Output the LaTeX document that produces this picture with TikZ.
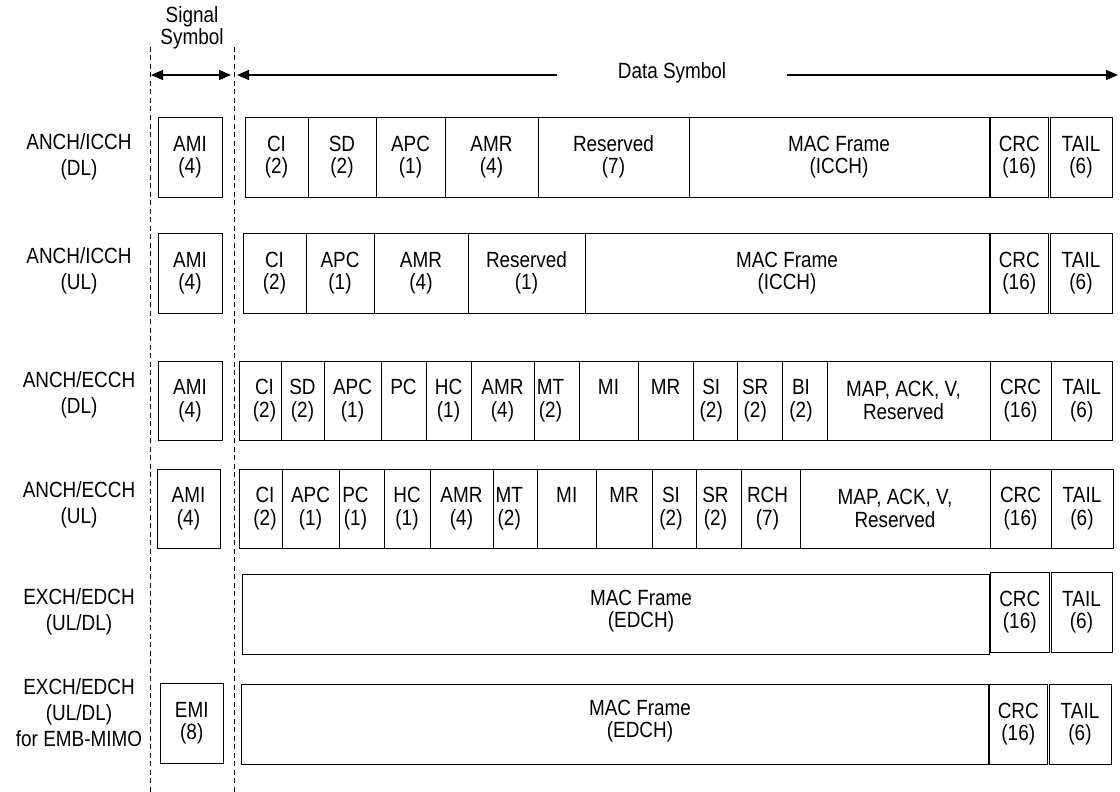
\documentclass[tikz,border=0pt]{standalone}
\usepackage{fontspec}
\setmainfont{Liberation Sans}[FakeStretch=0.86]
\usetikzlibrary{arrows.meta}
\newcommand\fieldbox[6]{\node[fld, minimum width={(#3)-(#2)}, minimum height={(#5)-(#4)}] (#1) at ({((#2)+(#3))/2},{((#4)+(#5))/2}) {#6};}
\newcommand\sh[1]{\hspace*{#1pt}}
\begin{document}
\begin{tikzpicture}[x=1pt,y=-1pt,line width=1pt,
  fld/.style={draw, inner sep=0pt, align=center, font=\fontsize{22}{22.5}\selectfont},
  rowlab/.style={align=center, inner sep=0pt, font=\fontsize{22}{25.5}\selectfont},
  txt/.style={align=center, inner sep=0pt, font=\fontsize{22}{22.5}\selectfont},
  guide/.style={line width=1.2pt, dash pattern=on 5pt off 3.5pt},
  tri/.tip={Triangle[length=12pt,width=10pt]}]
\useasboundingbox (0,0) rectangle (1120,792);
\fill[white] (0,0) rectangle (1120,792);
% guides
\coordinate (g1t) at (150.5,47); \coordinate (g1b) at (150.5,792);
\coordinate (g2t) at (234.5,47); \coordinate (g2b) at (234.5,792);
\draw[guide] (g1t) -- (g1b);
\draw[guide] (g2t) -- (g2b);
\node[txt, font=\fontsize{22}{19}\selectfont] (sig) at (192,28) {Signal\\Symbol};
\coordinate (s1) at (151,75); \coordinate (s2) at (231,75);
\draw[line width=1.1pt, {tri}-{tri}] (s1) -- (s2);
\coordinate (a1) at (237,75); \coordinate (a2) at (557,75);
\coordinate (a3) at (787,75); \coordinate (a4) at (1118,75);
\node[txt] (ds) at (672,73) {Data Symbol};
\draw[line width=1.1pt, {tri}-] (a1) -- (a2);
\draw[line width=1.1pt, -{tri}] (a3) -- (a4);
% row labels
\node[rowlab] (l1) at (79,157) {ANCH/ICCH\\(DL)};
\node[rowlab] (l2) at (79,271) {ANCH/ICCH\\(UL)};
\node[rowlab] (l3) at (79,395) {ANCH/ECCH\\(DL)};
\node[rowlab] (l4) at (79,505) {ANCH/ECCH\\(UL)};
\node[rowlab] (l5) at (79,612) {EXCH/EDCH\\(UL/DL)};
\node[rowlab, font=\fontsize{22}{26}\selectfont] (l6) at (79,713) {EXCH/EDCH\\(UL/DL)\\for EMB-MIMO};
% row 1
\fieldbox{r1ami}{158}{222}{117}{197}{AMI\\(4)}
\fieldbox{r1ci}{245}{308}{117}{197}{CI\\(2)}
\fieldbox{r1sd}{308}{376}{117}{197}{SD\\(2)}
\fieldbox{r1apc}{376}{445}{117}{197}{APC\\(1)}
\fieldbox{r1amr}{445}{538}{117}{197}{AMR\\(4)}
\fieldbox{r1res}{538}{689}{117}{197}{Reserved\\(7)}
\fieldbox{r1mac}{689}{989}{117}{197}{MAC Frame\\(ICCH)}
\fieldbox{r1crc}{990.5}{1048}{117}{197}{CRC\\(16)}
\fieldbox{r1tail}{1050}{1112}{117}{197}{TAIL\\(6)}
% row 2
\fieldbox{r2ami}{158}{222}{233}{313}{AMI\\(4)}
\fieldbox{r2ci}{243}{306}{233}{313}{CI\\(2)}
\fieldbox{r2apc}{306}{374}{233}{313}{APC\\(1)}
\fieldbox{r2amr}{374}{468}{233}{313}{AMR\\(4)}
\fieldbox{r2res}{468}{585}{233}{313}{Reserved\\(1)}
\fieldbox{r2mac}{585}{989}{233}{313}{MAC Frame\\(ICCH)}
\fieldbox{r2crc}{990.5}{1048}{233}{313}{CRC\\(16)}
\fieldbox{r2tail}{1050}{1112}{233}{313}{TAIL\\(6)}
% row 3
\fieldbox{r3ami}{158}{222}{361}{440}{AMI\\(4)}
\fieldbox{r3ci}{239}{281}{361}{440}{\sh{9}CI\\\sh{9}(2)}
\fieldbox{r3sd}{281}{324}{361}{440}{SD\\(2)}
\fieldbox{r3apc}{324}{381}{361}{440}{APC\\(1)}
\fieldbox{r3pc}{381}{426}{361}{440}{PC\\\phantom{(1)}}
\fieldbox{r3hc}{426}{471}{361}{440}{HC\\(1)}
\fieldbox{r3amr}{471}{534}{361}{440}{AMR\\(4)}
\fieldbox{r3mt}{534}{579}{361}{440}{MT\sh{12}\\(2)\sh{12}}
\fieldbox{r3mi}{579}{638}{361}{440}{MI\\\phantom{(1)}}
\fieldbox{r3mr}{638}{693}{361}{440}{MR\\\phantom{(1)}}
\fieldbox{r3si}{693}{737.5}{361}{440}{SI\sh{8}\\(2)\sh{8}}
\fieldbox{r3sr}{737.5}{782}{361}{440}{SR\sh{9}\\(2)\sh{9}}
\fieldbox{r3bi}{782}{827}{361}{440}{BI\sh{7}\\(2)\sh{7}}
\fieldbox{r3map}{827}{990}{361}{440}{MAP, ACK, V,\sh{10}\\Reserved\sh{10}}
\fieldbox{r3crc}{990}{1051}{361}{440}{CRC\\(16)}
\fieldbox{r3tail}{1051}{1112.5}{361}{440}{TAIL\\(6)}
% row 4
\fieldbox{r4ami}{157}{220}{469}{548}{AMI\\(4)}
\fieldbox{r4ci}{239}{282}{469}{548}{\sh{9}CI\\\sh{9}(2)}
\fieldbox{r4apc}{282}{339}{469}{548}{APC\\(1)}
\fieldbox{r4pc}{339}{384}{469}{548}{PC\sh{12}\\(1)\sh{12}}
\fieldbox{r4hc}{384}{430}{469}{548}{HC\\(1)}
\fieldbox{r4amr}{430}{493}{469}{548}{AMR\\(4)}
\fieldbox{r4mt}{493}{537.5}{469}{548}{MT\sh{12}\\(2)\sh{12}}
\fieldbox{r4mi}{537.5}{596}{469}{548}{MI\\\phantom{(1)}}
\fieldbox{r4mr}{596}{652}{469}{548}{MR\\\phantom{(1)}}
\fieldbox{r4si}{652}{696}{469}{548}{SI\sh{6}\\(2)\sh{6}}
\fieldbox{r4sr}{696}{741}{469}{548}{SR\sh{6}\\(2)\sh{6}}
\fieldbox{r4rch}{741}{800}{469}{548}{RCH\sh{6}\\(7)\sh{6}}
\fieldbox{r4map}{800}{990}{469}{548}{MAP, ACK, V,\\Reserved}
\fieldbox{r4crc}{990}{1051}{469}{548}{CRC\\(16)}
\fieldbox{r4tail}{1051}{1113}{469}{548}{TAIL\\(6)}
% row 5
\fieldbox{r5mac}{242.5}{989}{574}{654}{}
\node[txt] (r5mactxt) at (641,611) {MAC Frame\\(EDCH)};
\fieldbox{r5crc}{990.5}{1049}{572}{652}{CRC\\(16)}
\fieldbox{r5tail}{1051}{1112}{572}{652}{TAIL\\(6)}
% row 6
\fieldbox{r6emi}{160}{223.5}{683}{763}{EMI\\(8)}
\fieldbox{r6mac}{241}{988}{684}{764}{}
\node[txt] (r6mactxt) at (640,721) {MAC Frame\\(EDCH)};
\fieldbox{r6crc}{989.5}{1047}{684}{764}{CRC\\(16)}
\fieldbox{r6tail}{1049}{1111}{684}{764}{TAIL\\(6)}
\end{tikzpicture}
\end{document}
